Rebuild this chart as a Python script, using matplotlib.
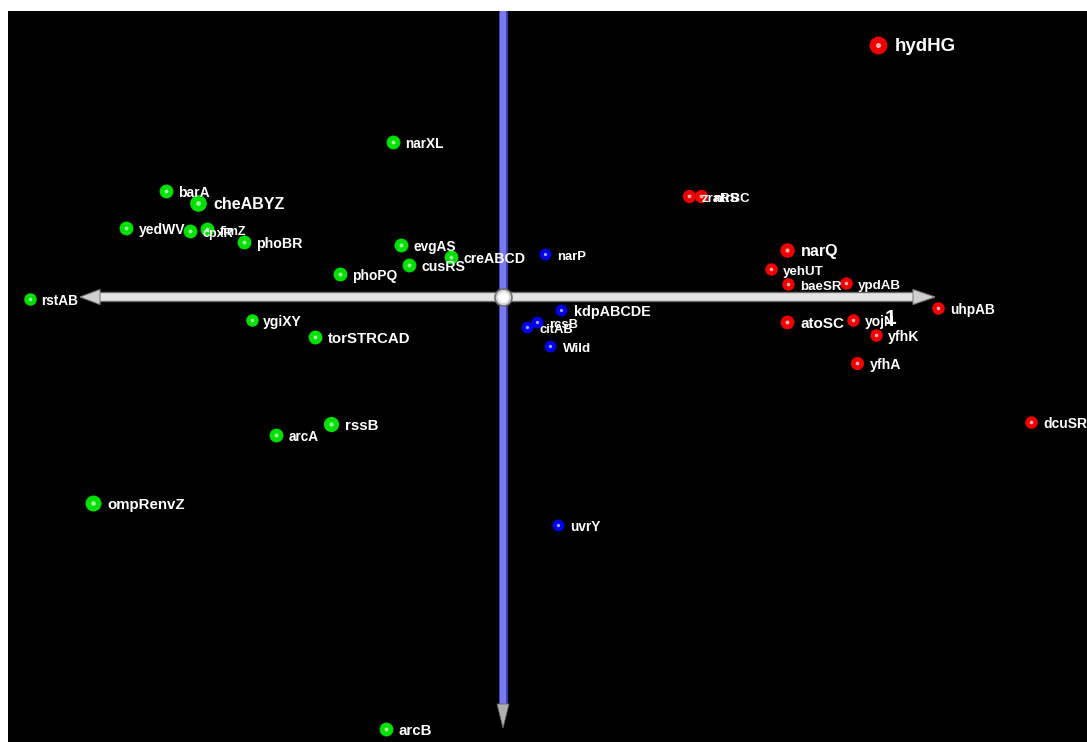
import matplotlib
matplotlib.use("Agg")
import matplotlib.pyplot as plt
import matplotlib.patheffects as pe
from matplotlib.patches import Polygon

# Projected coordinates (units: horizontal / vertical offset from origin, x right, y up)
green_names = ["narXL", "barA", "cheABYZ", "yedWV", "cpxR", "fimZ", "phoBR", "evgAS",
               "creABCD", "cusRS", "phoPQ", "rstAB", "ygiXY", "torSTRCAD", "rssB",
               "arcA", "ompRenvZ", "arcB"]
green_x = [-1.10, -3.37, -3.05, -3.77, -3.13, -2.96, -2.59, -1.02, -0.52, -0.94, -1.63,
           -4.73, -2.51, -1.88, -1.72, -2.27, -4.10, -1.17]
green_y = [1.55, 1.06, 0.94, 0.69, 0.66, 0.68, 0.55, 0.52, 0.40, 0.32, 0.23, -0.02,
           -0.23, -0.40, -1.27, -1.38, -2.06, -4.32]
green_size = [1.0, 1.0, 1.2, 1.0, 1.0, 1.0, 1.0, 1.0, 1.0, 1.0, 1.0, 0.9, 0.9, 1.0, 1.1,
              1.0, 1.15, 1.0]
green_font = [9.8, 10, 11.5, 10, 9, 9, 10.2, 9.8, 10.2, 10.2, 9.9, 9.8, 10, 10.8, 10.8,
              9.8, 10.8, 10.8]

blue_names = ["narP", "kdpABCDE", "rcsB", "citAB", "Wild", "uvrY"]
blue_x = [0.42, 0.58, 0.34, 0.24, 0.47, 0.55]
blue_y = [0.43, -0.13, -0.25, -0.30, -0.49, -2.28]
blue_font = [9.4, 10.4, 9.4, 9.4, 9.6, 9.8]

red_names = ["hydHG", "zraRS", "ntrBC", "narQ", "yehUT", "baeSR", "ypdAB", "uhpAB",
             "atoSC", "yojN", "yfhK", "yfhA", "dcuSR"]
red_x = [3.75, 1.86, 1.98, 2.84, 2.68, 2.85, 3.43, 4.35, 2.84, 3.50, 3.73, 3.54, 5.28]
red_y = [2.52, 1.01, 1.01, 0.47, 0.28, 0.13, 0.14, -0.11, -0.25, -0.23, -0.38, -0.66,
         -1.25]
red_size = [1.35, 1.0, 1.0, 1.1, 0.95, 0.95, 0.95, 0.95, 1.05, 0.95, 0.95, 1.0, 0.95]
red_font = [13.5, 9.5, 9.5, 11.5, 9.6, 9.6, 9.6, 9.8, 11, 10, 10.2, 10.2, 10]

W, H = 1087, 742
fig = plt.figure(figsize=(W / 100, H / 100), dpi=100, facecolor="white")
ax = fig.add_axes([8 / W, 0, 1 - 8 / W, 1 - 11 / H])
ax.set_facecolor("black")
ax.set_xlim(-4.95, 5.84)
ax.set_ylim(-4.45, 2.86)
ax.set_xticks([])
ax.set_yticks([])
for s in ax.spines.values():
    s.set_visible(False)

# Horizontal axis (white/grey bar with arrows)
ax.plot([-4.05, 4.10], [0, 0], color="#e4e4e4", lw=5.5, solid_capstyle="butt", zorder=2,
        path_effects=[pe.Stroke(linewidth=7.5, foreground="#6a6a6a"), pe.Normal()])
ax.add_patch(Polygon([[-4.23, 0], [-4.03, 0.075], [-4.03, -0.075]], closed=True,
                     facecolor="#cfcfcf", edgecolor="#808080", lw=0.8, zorder=3))
ax.add_patch(Polygon([[4.32, 0], [4.10, 0.075], [4.10, -0.075]], closed=True,
                     facecolor="#cfcfcf", edgecolor="#808080", lw=0.8, zorder=3))
# Vertical axis (blue)
ax.plot([0, 0], [2.9, -4.07], color="#7a7af0", lw=4.5, solid_capstyle="butt", zorder=2,
        path_effects=[pe.Stroke(linewidth=6.5, foreground="#3a3aa0"), pe.Normal()])
ax.add_patch(Polygon([[0, -4.31], [-0.06, -4.07], [0.06, -4.07]], closed=True,
                     facecolor="#b0b0b0", edgecolor="#666666", lw=0.6, zorder=3))
# Origin sphere
ax.scatter([0], [0], s=150, color="#d8d8d8", edgecolors="#707070", linewidths=1.2, zorder=4)
ax.scatter([0], [0], s=45, color="white", zorder=5)


def draw(xs, ys, names, sizes, fonts, base, hi, s0):
    for x, y, n, sz, fs in zip(xs, ys, names, sizes, fonts):
        ax.scatter([x], [y], s=s0 * sz ** 2, color=base, zorder=6, linewidths=0)
        ax.scatter([x], [y], s=s0 * 0.08 * sz ** 2, color=hi, zorder=7, linewidths=0)
        ax.annotate(n, (x, y), xytext=(9 * sz, -4.5), textcoords="offset points",
                    color="white", fontsize=fs, fontweight="bold",
                    fontfamily="Liberation Sans", zorder=8)


draw(green_x, green_y, green_names, green_size, green_font, "#00e000", "#a0ffa0", 100)
draw(blue_x, blue_y, blue_names, [1] * len(blue_names), blue_font, "#0000f0", "#a0a0ff", 72)
draw(red_x, red_y, red_names, red_size, red_font, "#f00000", "#ffb0b0", 90)

ax.text(3.82, -0.27, "1", color="white", fontsize=15, fontweight="bold",
        fontfamily="Liberation Sans", zorder=8)

fig.savefig("out.png", dpi=100, facecolor="white")
